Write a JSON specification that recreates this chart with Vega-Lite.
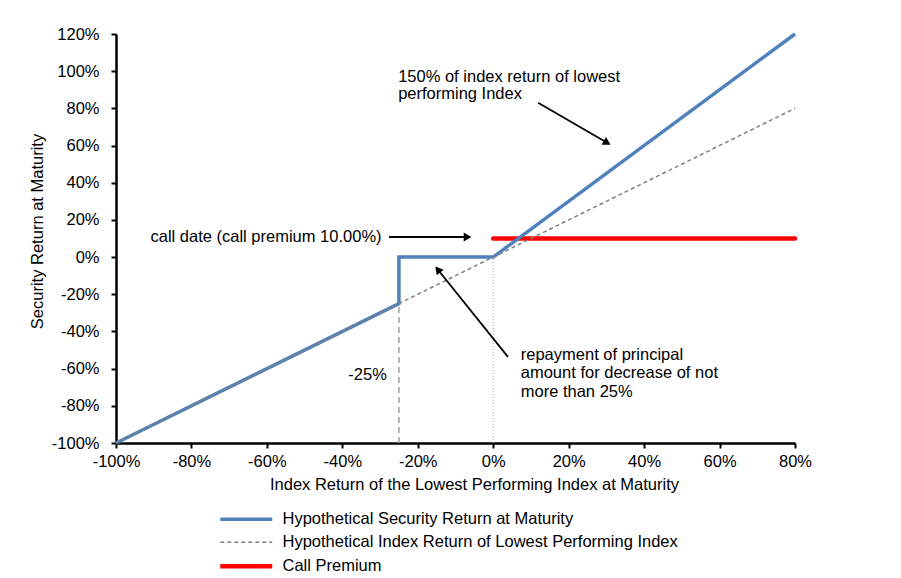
{
  "$schema": "https://vega.github.io/schema/vega-lite/v6.json",
  "width": 679,
  "height": 409,
  "autosize": {"type": "none"},
  "padding": {"left": 116, "top": 34, "right": 106, "bottom": 135},
  "background": "white",
  "config": {
    "view": {"stroke": null},
    "font": "Liberation Sans",
    "axis": {
      "grid": false,
      "domainColor": "black",
      "domainWidth": 2.5,
      "tickColor": "black",
      "tickWidth": 2,
      "tickSize": 5,
      "labelFlush": false,
      "labelFont": "Liberation Sans",
      "labelFontSize": 16.5,
      "labelColor": "black",
      "titleFont": "Liberation Sans",
      "titleFontSize": 16.5,
      "titleFontWeight": "normal",
      "titleColor": "black"
    },
    "legend": {
      "labelFont": "Liberation Sans",
      "labelFontSize": 16.5,
      "labelColor": "black",
      "labelLimit": 600
    }
  },
  "datasets": {
    "series": [
      {"series": "Hypothetical Security Return at Maturity", "order": 1, "x": -100, "y": -100},
      {"series": "Hypothetical Security Return at Maturity", "order": 2, "x": -25, "y": -25},
      {"series": "Hypothetical Security Return at Maturity", "order": 3, "x": -25, "y": 0},
      {"series": "Hypothetical Security Return at Maturity", "order": 4, "x": 0, "y": 0},
      {"series": "Hypothetical Security Return at Maturity", "order": 5, "x": 80, "y": 120},
      {"series": "Hypothetical Index Return of Lowest Performing Index", "order": 1, "x": -100, "y": -100},
      {"series": "Hypothetical Index Return of Lowest Performing Index", "order": 2, "x": 80, "y": 80},
      {"series": "Call Premium", "order": 1, "x": 0, "y": 10},
      {"series": "Call Premium", "order": 2, "x": 80, "y": 10}
    ],
    "refs": [
      {"kind": "dashed", "x": -25, "y": -100, "y2": -25},
      {"kind": "dotted", "x": 0, "y": -100, "y2": 0}
    ],
    "arrows": [
      {"id": "index", "x": 11.9, "y": 83.0, "x2": 30.2, "y2": 61.5},
      {"id": "call", "x": -27.6, "y": 10.8, "x2": -6.8, "y2": 10.8},
      {"id": "principal", "x": 3.9, "y": -53.7, "x2": -14.7, "y2": -6.7}
    ],
    "notes": [
      {"side": "left", "x": -25.2, "y": 97.0, "text": "150% of index return of lowest"},
      {"side": "left", "x": -25.2, "y": 87.6, "text": "performing Index"},
      {"side": "left", "x": 7.3, "y": -52.7, "text": "repayment of principal"},
      {"side": "left", "x": 7.3, "y": -62.6, "text": "amount for decrease of not"},
      {"side": "left", "x": 7.3, "y": -72.7, "text": "more than 25%"},
      {"side": "right", "x": -28.2, "y": -63.4, "text": "-25%"},
      {"side": "right", "x": -29.6, "y": 10.9, "text": "call date (call premium 10.00%)"}
    ]
  },
  "encoding": {
    "x": {
      "field": "x",
      "type": "quantitative",
      "scale": {"domain": [-100, 80], "nice": false, "zero": false},
      "axis": {
        "title": "Index Return of the Lowest Performing Index at Maturity",
        "values": [-100, -80, -60, -40, -20, 0, 20, 40, 60, 80],
        "labelExpr": "datum.value + '%'",
        "labelPadding": 5,
        "titleX": 358,
        "titleY": 41,
        "titleBaseline": "middle",
        "titleAnchor": "middle"
      }
    },
    "y": {
      "field": "y",
      "type": "quantitative",
      "scale": {"domain": [-100, 120], "nice": false, "zero": false},
      "axis": {
        "title": "Security Return at Maturity",
        "values": [-100, -80, -60, -40, -20, 0, 20, 40, 60, 80, 100, 120],
        "labelExpr": "datum.value + '%'",
        "labelPadding": 12,
        "titleX": -79,
        "titleY": 197,
        "titleAngle": -90,
        "titleAlign": "center",
        "titleBaseline": "middle"
      }
    }
  },
  "layer": [
    {
      "data": {"name": "refs"},
      "transform": [{"filter": "datum.kind === 'dashed'"}],
      "mark": {"type": "rule", "color": "#a0a0a0", "strokeWidth": 1.5, "strokeDash": [6, 4]},
      "encoding": {"y2": {"field": "y2"}}
    },
    {
      "data": {"name": "refs"},
      "transform": [{"filter": "datum.kind === 'dotted'"}],
      "mark": {"type": "rule", "color": "#a6a6a6", "strokeWidth": 1, "strokeDash": [1, 2]},
      "encoding": {"y2": {"field": "y2"}}
    },
    {
      "data": {"name": "series"},
      "transform": [{"filter": "datum.series === 'Call Premium'"}],
      "mark": {"type": "line", "strokeWidth": 4.5, "strokeCap": "round"},
      "encoding": {
        "order": {"field": "order"},
        "color": {"field": "series", "type": "nominal"}
      }
    },
    {
      "data": {"name": "series"},
      "transform": [{"filter": "datum.series === 'Hypothetical Security Return at Maturity'"}],
      "mark": {"type": "line", "strokeWidth": 3.5},
      "encoding": {
        "order": {"field": "order"},
        "color": {"field": "series", "type": "nominal"}
      }
    },
    {
      "data": {"name": "series"},
      "transform": [{"filter": "datum.series === 'Hypothetical Index Return of Lowest Performing Index'"}],
      "mark": {"type": "line", "strokeWidth": 1.5, "strokeDash": [4, 3]},
      "encoding": {
        "order": {"field": "order"},
        "color": {
          "field": "series",
          "type": "nominal",
          "scale": {
            "domain": ["Hypothetical Security Return at Maturity", "Hypothetical Index Return of Lowest Performing Index", "Call Premium"],
            "range": ["#4f81bd", "#808080", "#ff0000"]
          },
          "legend": {
            "title": null,
            "orient": "none",
            "legendX": 143,
            "legendY": 477,
            "padding": 0,
            "rowPadding": 6,
            "labelOffset": 7,
            "symbolType": "M-9.4,0H1",
            "symbolSize": 100,
            "symbolFillColor": "transparent",
            "encode": {
              "symbols": {
                "update": {
                  "strokeWidth": {"signal": "datum.value === 'Call Premium' ? 4.5 : datum.value === 'Hypothetical Security Return at Maturity' ? 3.5 : 1.5"},
                  "strokeDash": {"signal": "datum.value === 'Hypothetical Index Return of Lowest Performing Index' ? [4, 3] : [1, 0]"}
                }
              }
            }
          }
        }
      }
    },
    {
      "data": {"name": "arrows"},
      "mark": {"type": "rule", "color": "black", "strokeWidth": 1.8},
      "encoding": {"x2": {"field": "x2"}, "y2": {"field": "y2"}}
    },
    {
      "data": {"name": "arrows"},
      "transform": [{"filter": "datum.id === 'index'"}],
      "mark": {"type": "point", "shape": "triangle-up", "filled": true, "color": "black", "opacity": 1, "size": 80, "angle": 120},
      "encoding": {"x": {"field": "x2", "type": "quantitative"}, "y": {"field": "y2", "type": "quantitative"}}
    },
    {
      "data": {"name": "arrows"},
      "transform": [{"filter": "datum.id === 'call'"}],
      "mark": {"type": "point", "shape": "triangle-up", "filled": true, "color": "black", "opacity": 1, "size": 80, "angle": 90},
      "encoding": {"x": {"field": "x2", "type": "quantitative"}, "y": {"field": "y2", "type": "quantitative"}}
    },
    {
      "data": {"name": "arrows"},
      "transform": [{"filter": "datum.id === 'principal'"}],
      "mark": {"type": "point", "shape": "triangle-up", "filled": true, "color": "black", "opacity": 1, "size": 80, "angle": 321},
      "encoding": {"x": {"field": "x2", "type": "quantitative"}, "y": {"field": "y2", "type": "quantitative"}}
    },
    {
      "data": {"name": "notes"},
      "transform": [{"filter": "datum.side === 'left'"}],
      "mark": {"type": "text", "align": "left", "baseline": "middle", "fontSize": 16.5, "color": "black", "font": "Liberation Sans"},
      "encoding": {"text": {"field": "text"}}
    },
    {
      "data": {"name": "notes"},
      "transform": [{"filter": "datum.side === 'right'"}],
      "mark": {"type": "text", "align": "right", "baseline": "middle", "fontSize": 16.5, "color": "black", "font": "Liberation Sans"},
      "encoding": {"text": {"field": "text"}}
    }
  ]
}
